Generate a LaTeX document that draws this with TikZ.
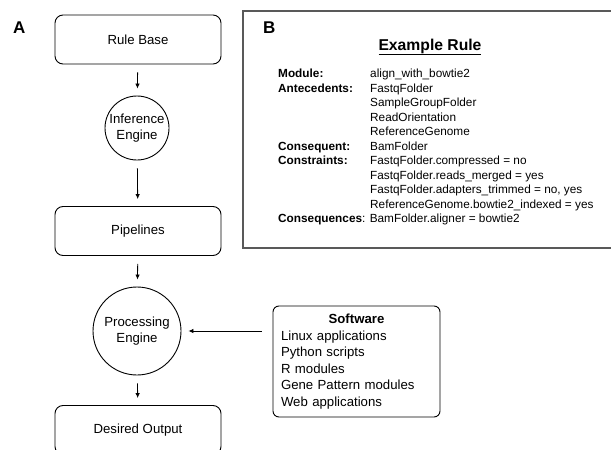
\documentclass[tikz,border=0pt]{standalone}
\usepackage{fontspec}
\setmainfont{Liberation Sans}
\usetikzlibrary{arrows.meta}

\begin{document}
\begin{tikzpicture}[x=1pt, y=-1pt,
    every node/.style={font=\fontsize{13.2}{16.6}\selectfont},
    box/.style={draw, rounded corners=8pt, line width=0.9pt, minimum width=166pt, minimum height=49pt},
    engine/.style={draw, circle, line width=0.9pt, align=center, inner sep=0pt},
    arr/.style={-{Latex[length=5pt,width=4.5pt]}, line width=0.8pt, shorten <=8pt, shorten >=7pt},
    panel/.style={font=\fontsize{17}{20}\selectfont\bfseries, anchor=base west, inner sep=0pt}]
    \useasboundingbox (0,0) rectangle (611,450);
    \clip (0,0) rectangle (611,450);

    %panel A: flow of the system
        \node[panel] (labelA) at (13,33) {A};
        \node[box] (rulebase) at (138,39.5) {Rule Base};
        \node[engine, minimum size=64pt] (inference) at (137,128) {Inference\\Engine};
        \node[box] (pipelines) at (138,231) {Pipelines};
        \node[engine, minimum size=88pt] (processing) at (137,331) {Processing\\Engine};
        \node[box] (output) at (138,430) {Desired Output};

        \draw[arr] (rulebase) -- (inference);
        \draw[arr] (inference) -- (pipelines);
        \draw[arr] (pipelines) -- (processing);
        \draw[arr] (processing) -- (output);

    %software feeding the processing engine
        \node[draw, rounded corners=6pt, line width=0.9pt, minimum width=167pt, minimum height=111pt,
              text width=151pt, align=left] (software) at (356.5,361.5)
            {\makebox[\linewidth]{\bfseries Software}\\
             Linux applications\\
             Python scripts\\
             R modules\\
             Gene Pattern modules\\
             Web applications};
        \draw[arr, shorten <=11pt] (software.west |- processing.east) -- (processing.east);

    %panel B: an example rule
        \draw[gray!70!black, line width=1.3pt] (243,11) rectangle (630,248);
        \node[panel] (labelB) at (263,33) {B};
        \node[font=\fontsize{15.7}{18}\selectfont\bfseries, anchor=base] (title) at (430,50)
            {\underline{Example Rule}};
        \node[font=\fontsize{11.8}{14.5}\selectfont, anchor=base west, inner sep=0pt] (rule) at (278,77.5)
            {\begin{tabular}[t]{@{}p{92pt}@{}l@{}}
                \textbf{Module:} & align\_with\_bowtie2\\
                \textbf{Antecedents:} & FastqFolder\\
                 & SampleGroupFolder\\
                 & ReadOrientation\\
                 & ReferenceGenome\\
                \textbf{Consequent:} & BamFolder\\
                \textbf{Constraints:} & FastqFolder.compressed = no\\
                 & FastqFolder.reads\_merged = yes\\
                 & FastqFolder.adapters\_trimmed = no, yes\\
                 & ReferenceGenome.bowtie2\_indexed = yes\\
                \multicolumn{2}{@{}l@{}}{\textbf{Consequences}: BamFolder.aligner = bowtie2}
             \end{tabular}};
\end{tikzpicture}
\end{document}
